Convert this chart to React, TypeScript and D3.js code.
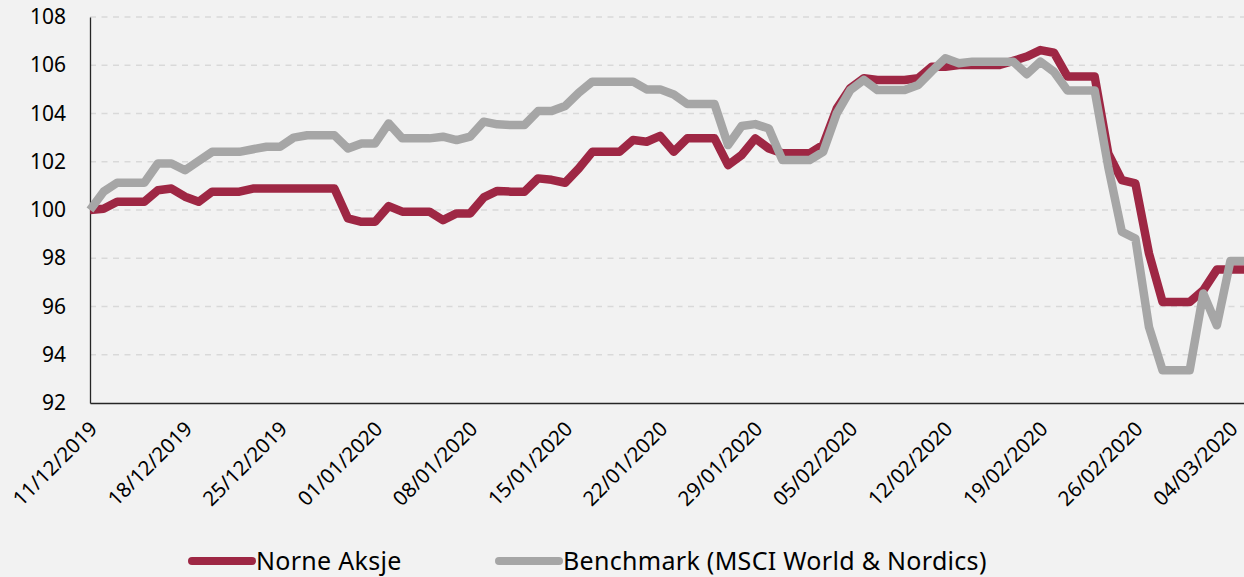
import React, { useEffect, useRef } from 'react';
import * as d3 from 'd3';

// daily points, 11/12/2019 -> 05/03/2020
const startDate = new Date(2019, 11, 11);
const endDate = new Date(2020, 2, 5);

const norne = [
  100.0, 100.05, 100.34, 100.34, 100.34, 100.82, 100.89, 100.55, 100.34, 100.76,
  100.76, 100.76, 100.89, 100.89, 100.89, 100.89, 100.89, 100.89, 100.89, 99.65,
  99.51, 99.51, 100.16, 99.93, 99.93, 99.93, 99.58, 99.86, 99.86, 100.52,
  100.79, 100.76, 100.76, 101.31, 101.25, 101.13, 101.72, 102.41, 102.41, 102.41,
  102.9, 102.83, 103.07, 102.41, 102.97, 102.97, 102.97, 101.86, 102.28, 102.97,
  102.55, 102.35, 102.35, 102.35, 102.7, 104.2, 105.05, 105.46, 105.39, 105.39,
  105.39, 105.46, 105.94, 105.94, 106.01, 106.01, 106.01, 106.01, 106.18, 106.36,
  106.63, 106.52, 105.53, 105.53, 105.53, 102.35, 101.24, 101.1, 98.2, 96.19,
  96.19, 96.19, 96.67, 97.53, 97.53, 97.53,
];

const benchmark = [
  100.0, 100.76, 101.13, 101.13, 101.13, 101.93, 101.93, 101.65, 102.03, 102.41,
  102.41, 102.41, 102.52, 102.62, 102.62, 103.0, 103.1, 103.1, 103.1, 102.55,
  102.76, 102.76, 103.59, 102.97, 102.97, 102.97, 103.04, 102.9, 103.04, 103.66,
  103.55, 103.52, 103.52, 104.1, 104.1, 104.31, 104.86, 105.32, 105.32, 105.32,
  105.32, 105.0, 105.0, 104.79, 104.39, 104.39, 104.39, 102.69, 103.48, 103.56,
  103.38, 102.07, 102.07, 102.07, 102.41, 104.0, 104.97, 105.39, 104.97, 104.97,
  104.97, 105.18, 105.75, 106.29, 106.08, 106.15, 106.15, 106.15, 106.15, 105.63,
  106.15, 105.73, 104.95, 104.95, 104.95, 101.79, 99.1, 98.82, 95.15, 93.36,
  93.36, 93.36, 96.54, 95.22, 97.89, 97.89,
];

const yTicks = [92, 94, 96, 98, 100, 102, 104, 106, 108];

const tickLabels = [
  '11/12/2019', '18/12/2019', '25/12/2019', '01/01/2020', '08/01/2020', '15/01/2020',
  '22/01/2020', '29/01/2020', '05/02/2020', '12/02/2020', '19/02/2020', '26/02/2020',
  '04/03/2020',
];

const seriesNames = ['Norne Aksje', 'Benchmark (MSCI World & Nordics)'];
const colors = ['#9e2744', '#a6a6a6'];

const parseLabel = d3.timeParse('%d/%m/%Y');

const Chart = ({ width = 1244, height = 577 }) => {
  const ref = useRef<SVGSVGElement>(null);

  useEffect(() => {
    const margin = { top: 17, left: 90, bottom: 174, right: 0 };
    const iwidth = width - margin.left - margin.right;
    const iheight = height - margin.top - margin.bottom;
    const font = "'Noto Sans', sans-serif";

    const svg = d3.select(ref.current);
    svg.selectAll('*').remove();
    svg.attr('width', width).attr('height', height);

    svg.append('rect').attr('width', width).attr('height', height).attr('fill', '#f2f2f2');

    const g = svg.append('g').attr('transform', `translate(${margin.left},${margin.top})`);

    const dates = d3.timeDay.range(startDate, d3.timeDay.offset(endDate, 1));

    const x = d3.scaleTime().domain([startDate, endDate]).range([0, iwidth]);
    const y = d3.scaleLinear().domain([92, 108]).range([iheight, 0]);

    // dashed gridlines
    g.append('g')
      .selectAll('line')
      .data(yTicks.filter((t) => t > 92))
      .enter()
      .append('line')
      .attr('x1', 0)
      .attr('x2', iwidth)
      .attr('y1', (d) => y(d))
      .attr('y2', (d) => y(d))
      .attr('stroke', '#d9d9d9')
      .attr('stroke-width', 1.3)
      .attr('stroke-dasharray', '6 5.5');

    // y axis
    const yAxis = g.append('g').call(
      d3.axisLeft(y).tickValues(yTicks).tickSize(0).tickPadding(24)
    );
    yAxis.select('.domain').attr('stroke', '#262626').attr('stroke-width', 1.3);
    yAxis
      .selectAll('text')
      .attr('font-family', font)
      .attr('font-size', 21)
      .attr('fill', '#000');

    // x axis
    const xAxis = g
      .append('g')
      .attr('transform', `translate(0,${iheight})`)
      .call(
        d3
          .axisBottom(x)
          .tickValues(tickLabels.map((s) => parseLabel(s) as Date))
          .tickFormat(d3.timeFormat('%d/%m/%Y') as any)
          .tickSize(0)
      );
    xAxis.select('.domain').attr('stroke', '#262626').attr('stroke-width', 1.3);
    xAxis
      .selectAll('text')
      .attr('font-family', font)
      .attr('font-size', 20.5)
      .attr('fill', '#000')
      .attr('text-anchor', 'end')
      .attr('dy', '0.35em')
      .attr('transform', 'translate(3,22) rotate(-45)')
      .attr('y', 0)
      .attr('x', 0);

    const line = d3
      .line<number>()
      .x((d, i) => x(dates[i]))
      .y((d) => y(d));

    [norne, benchmark].forEach((series, k) => {
      g.append('path')
        .datum(series)
        .attr('fill', 'none')
        .attr('stroke', colors[k])
        .attr('stroke-width', 8.5)
        .attr('stroke-linejoin', 'round')
        .attr('d', line);
    });

    // legend
    const legendX = [192, 499];
    const legend = svg.append('g');
    seriesNames.forEach((name, k) => {
      legend
        .append('line')
        .attr('x1', legendX[k])
        .attr('x2', legendX[k] + 60)
        .attr('y1', 561)
        .attr('y2', 561)
        .attr('stroke', colors[k])
        .attr('stroke-width', 8)
        .attr('stroke-linecap', 'round');
      legend
        .append('text')
        .attr('x', legendX[k] + 64)
        .attr('y', 570)
        .attr('font-family', font)
        .attr('font-size', 25)
        .attr('letter-spacing', 0.3)
        .attr('fill', '#000')
        .text(name);
    });
  }, [width, height]);

  return <svg ref={ref} style={{ display: 'block' }}></svg>;
};

export default function App() {
  return (
    <div style={{ position: 'fixed', left: 0, top: 0, width: 1244, height: 577, background: '#f2f2f2' }}>
      <Chart />
    </div>
  );
}
